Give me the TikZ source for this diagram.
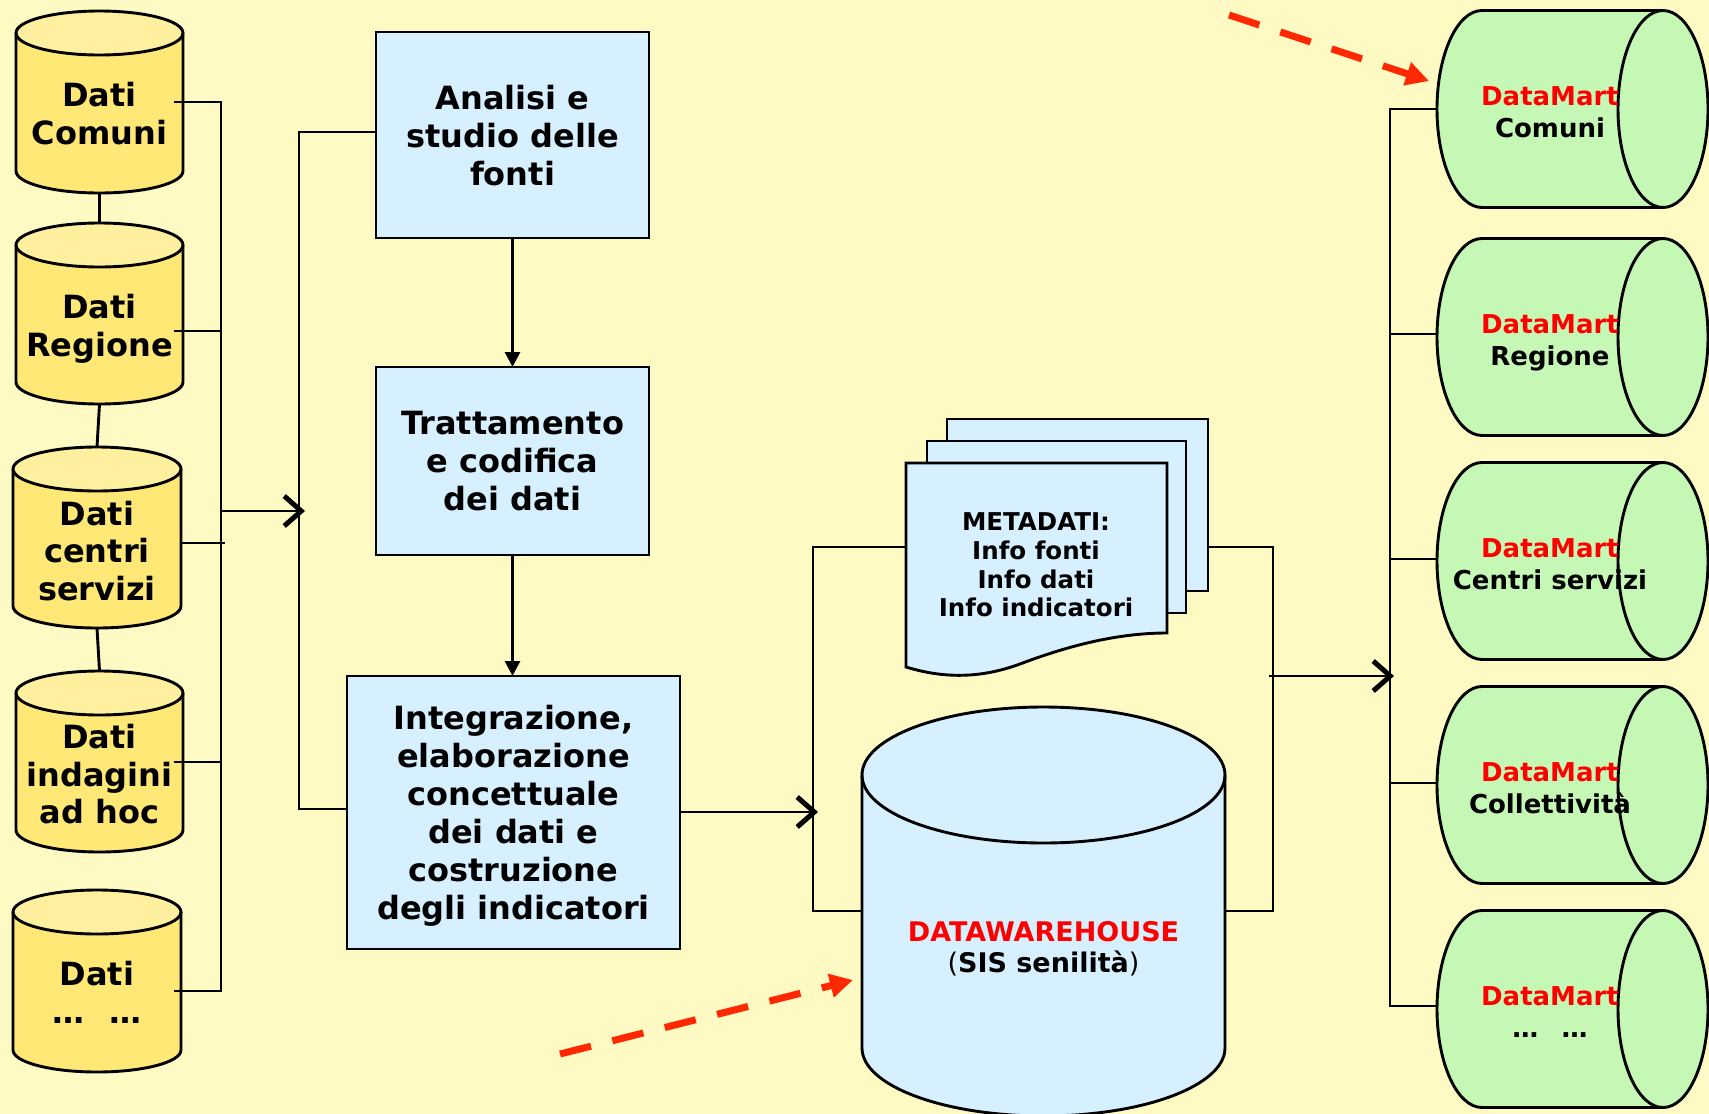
\documentclass[tikz,border=0pt]{standalone}
\usepackage{fontspec}
\setmainfont{DejaVu Sans}
\usetikzlibrary{arrows.meta}
\definecolor{bg}{RGB}{255,250,196}
\definecolor{ybody}{RGB}{255,232,118}
\definecolor{ytop}{RGB}{255,240,160}
\definecolor{lblue}{RGB}{214,240,255}
\definecolor{lgreen}{RGB}{196,248,180}
\definecolor{dred}{RGB}{255,40,0}
\definecolor{tred}{RGB}{255,0,0}
\newcommand{\vcyl}[7]{%
  \pgfmathsetmacro\vcX{(#1+#2)/2}%
  \pgfmathsetmacro\vcR{(#2-#1)/2}%
  \pgfmathsetmacro\vcA{#3+#5}%
  \pgfmathsetmacro\vcB{#4-#5}%
  \fill[#6] (#1,\vcA) -- (#1,\vcB) arc[start angle=180,end angle=0,x radius=\vcR,y radius=#5] -- (#2,\vcA) -- cycle;
  \draw[fill=#7] (\vcX,\vcA) ellipse[x radius=\vcR,y radius=#5];
  \draw (#1,\vcA) -- (#1,\vcB) arc[start angle=180,end angle=0,x radius=\vcR,y radius=#5] -- (#2,\vcA);
}
\newcommand{\hcyl}[1]{%
  \pgfmathsetmacro\hcT{#1-98.5}%
  \pgfmathsetmacro\hcB{#1+98.5}%
  \draw[fill=lgreen] (1663,\hcT) -- (1482,\hcT) arc[start angle=-90,end angle=-270,x radius=45,y radius=98.5] -- (1663,\hcB);
  \draw[fill=lgreen] (1663,#1) ellipse[x radius=45,y radius=98.5];
}
\begin{document}
\begin{tikzpicture}[x=1pt,y=-1pt,line width=2.9pt,
  every node/.style={inner sep=0pt,outer sep=0pt},
  hole/.style={draw=none,inner sep=0pt,outer sep=0pt},
  cyltext/.style={align=center,text depth=0pt,font=\fontsize{32pt}{37.5pt}\selectfont\bfseries},
  stepbox/.style={draw,fill=lblue,line width=2.9pt,align=center,text depth=0pt,font=\fontsize{32pt}{38pt}\selectfont\bfseries},
  metatext/.style={align=center,text depth=0pt,font=\fontsize{24.5pt}{28.7pt}\selectfont\bfseries},
  dwtext/.style={align=center,text depth=0pt,font=\fontsize{27pt}{31pt}\selectfont\bfseries},
  dmtext/.style={align=center,text depth=0pt,font=\fontsize{26pt}{32pt}\selectfont\bfseries},
  page/.style={draw,fill=lblue,line width=2.9pt},
  openarrow/.style={-{Straight Barb[length=17pt,width=30pt,line width=5pt]}},
  tri/.style={-{Triangle[length=15pt,width=15pt]}},
  redarrow/.style={draw=dred,line width=7pt,dash pattern=on 32pt off 22pt,-{Triangle[length=23pt,width=23pt]}}
]
\fill[bg] (0,0) rectangle (1709,1114);
\useasboundingbox (0,0) rectangle (1709,1114);

% ---- source cylinders
\vcyl{16}{183}{11}{193}{22}{ybody}{ytop}
\vcyl{16}{183}{223}{404}{22}{ybody}{ytop}
\vcyl{13}{181}{447}{628}{22}{ybody}{ytop}
\vcyl{16}{183}{671}{852}{22}{ybody}{ytop}
\vcyl{13}{181}{890}{1072}{22}{ybody}{ytop}
\node[hole,minimum width=167pt,minimum height=182pt] (cyl1) at (99.5,102) {};
\node[hole,minimum width=167pt,minimum height=181pt] (cyl2) at (99.5,313.5) {};
\node[hole,minimum width=168pt,minimum height=181pt] (cyl3) at (97,537.5) {};
\node[hole,minimum width=167pt,minimum height=181pt] (cyl4) at (99.5,761.5) {};
\node[hole,minimum width=168pt,minimum height=182pt] (cyl5) at (97,981) {};
\node[cyltext] (t1) at (99.5,113.5) {Dati\\Comuni};
\node[cyltext] (t2) at (99.5,325.5) {Dati\\Regione};
\node[cyltext] (t3) at (97,550.5) {Dati\\centri\\servizi};
\node[cyltext] (t4) at (99.5,774) {Dati\\indagini\\ad hoc};
\node[cyltext] (t5) at (97,992.5) {Dati\\…\hspace{0.8em}…};
\draw (cyl1.south) -- (cyl2.north);
\draw (cyl2.south) -- (cyl3.north);
\draw (cyl3.south) -- (cyl4.north);

% ---- first bus
\coordinate (o1) at (174,102);
\coordinate (o2) at (174,331);
\coordinate (o3) at (181,543);
\coordinate (o3e) at (225,543);
\coordinate (o4) at (174,762);
\coordinate (o5) at (174,991);
\coordinate (b1t) at (221,102);
\coordinate (b1b) at (221,991);
\draw (o1) -- (b1t) -- (b1b) -- (o5);
\draw (o2) -- (o2 -| b1t);
\draw (o3) -- (o3e);
\draw (o4) -- (o4 -| b1t);
\coordinate (a1s) at (221,511);
\coordinate (a1e) at (305,511);
\draw[openarrow] (a1s) -- (a1e);

% ---- process boxes
\node[stepbox,minimum width=273pt,minimum height=206pt] (analisi) at (512.5,135) {Analisi e\\studio delle\\fonti};
\node[stepbox,minimum width=273pt,minimum height=188pt] (tratt) at (512.5,461) {Trattamento\\e codifica\\dei dati};
\node[stepbox,minimum width=333pt,minimum height=273pt] (integr) at (513.5,812.5) {Integrazione,\\elaborazione\\concettuale\\dei dati e\\costruzione\\degli indicatori};
\draw[tri] (analisi.south) -- (tratt.north);
\draw[tri] (tratt.south) -- (tratt.south |- integr.north);
\coordinate (b2t) at (299,132);
\coordinate (b2b) at (299,809);
\draw (analisi.west |- b2t) -- (b2t) -- (b2b) -- (integr.west |- b2b);
\coordinate (a2e) at (818,812);
\draw[openarrow] (integr.east |- a2e) -- (a2e);

% ---- metadata pages
\node[page,minimum width=261pt,minimum height=172pt] (page3) at (1077.5,505) {};
\node[page,minimum width=259pt,minimum height=172pt] (page2) at (1056.5,527) {};
\draw[page] (906,463) -- (1167,463) -- (1167,633) .. controls (1115,633) and (1065,647) .. (1020,664) .. controls (982,678) and (945,679) .. (906,667) -- cycle;
\node[metatext] (meta) at (1036,565) {METADATI:\\Info fonti\\Info dati\\Info indicatori};

% ---- datawarehouse
\vcyl{862}{1225}{707}{1116}{68}{lblue}{lblue}
\node[hole,minimum width=363pt,minimum height=409pt] (dw) at (1043.5,911.5) {};
\node[dwtext] (dwt) at (1043.5,946.5) {\textcolor{tred}{DATAWAREHOUSE}\\{\mdseries(}SIS senilità{\mdseries)}};

% ---- third bus
\coordinate (mL) at (906,547);
\coordinate (b3t) at (813,547);
\coordinate (b3b) at (813,911);
\draw (mL) -- (b3t) -- (b3b) -- (dw.west |- b3b);

% ---- fourth bus
\coordinate (b4t) at (1273,547);
\coordinate (b4b) at (1273,911);
\draw (page3.east |- b4t) -- (b4t) -- (b4b) -- (dw.east |- b4b);
\coordinate (a3s) at (1269,676);
\coordinate (a3e) at (1394,676);
\draw[openarrow] (a3s) -- (a3e);

% ---- datamarts
\hcyl{109}
\hcyl{337}
\hcyl{561}
\hcyl{785}
\hcyl{1009}
\node[hole,minimum width=271pt,minimum height=197pt] (dm1) at (1572.5,109) {};
\node[hole,minimum width=271pt,minimum height=197pt] (dm2) at (1572.5,334) {};
\node[hole,minimum width=271pt,minimum height=197pt] (dm3) at (1572.5,559) {};
\node[hole,minimum width=271pt,minimum height=197pt] (dm4) at (1572.5,783) {};
\node[hole,minimum width=271pt,minimum height=197pt] (dm5) at (1572.5,1006) {};
\node[dmtext] (dmt1) at (1550,112.5) {\textcolor{tred}{DataMart}\\Comuni};
\node[dmtext] (dmt2) at (1550,340.5) {\textcolor{tred}{DataMart}\\Regione};
\node[dmtext] (dmt3) at (1550,564.5) {\textcolor{tred}{DataMart}\\Centri servizi};
\node[dmtext] (dmt4) at (1550,788.5) {\textcolor{tred}{DataMart}\\Collettività};
\node[dmtext] (dmt5) at (1550,1012.5) {\textcolor{tred}{DataMart}\\…\hspace{0.9em}…};
\coordinate (b5t) at (1390,109);
\coordinate (b5b) at (1390,1006);
\draw (dm1.west) -- (b5t) -- (b5b) -- (dm5.west);
\draw (dm2.west) -- (dm2.west -| b5t);
\draw (dm3.west) -- (dm3.west -| b5t);
\draw (dm4.west) -- (dm4.west -| b5t);

% ---- red dashed arrows
\coordinate (r1s) at (1229,15);
\coordinate (r1e) at (1429,81);
\draw[redarrow] (r1s) -- (r1e);
\coordinate (r2s) at (560,1054);
\coordinate (r2e) at (853,980);
\draw[redarrow] (r2s) -- (r2e);
\end{tikzpicture}
\end{document}
